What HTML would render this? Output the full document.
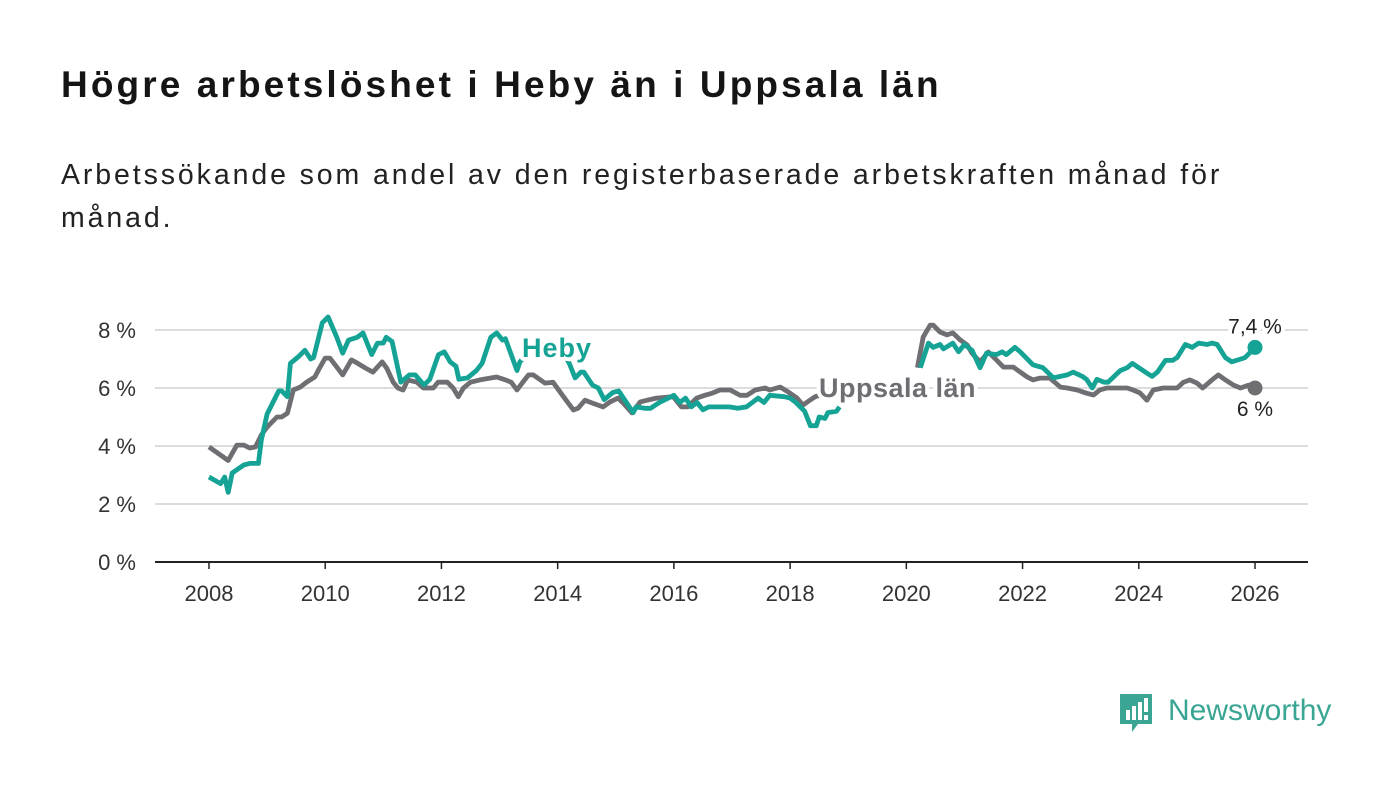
<!DOCTYPE html>
<html><head><meta charset="utf-8">
<style>
body{margin:0;background:#fff;width:1400px;height:794px;overflow:hidden;font-family:"Liberation Sans",sans-serif;}
#title{position:absolute;left:61px;top:64px;font-size:37px;font-weight:bold;color:#151515;margin:0;letter-spacing:3.1px;}
#sub{position:absolute;left:61px;top:154px;width:1240px;font-size:28.5px;line-height:43px;color:#222;margin:0;letter-spacing:2.9px;}
svg{position:absolute;left:0;top:0;}
#logo{position:absolute;left:1118px;top:690px;}
</style></head><body>
<h1 id="title">Högre arbetslöshet i Heby än i Uppsala län</h1>
<p id="sub">Arbetssökande som andel av den registerbaserade arbetskraften månad för månad.</p>
<svg id="chart" width="1400" height="794"></svg>
<div id="logo">
<svg width="230" height="50" style="position:static">
<path d="M2 4 h32 v30 h-14 l-6 8 v-8 h-12z" fill="#3aa593"/>
<rect x="8" y="20" width="4" height="10" fill="#fff"/><rect x="14" y="16" width="4" height="14" fill="#fff"/><rect x="20" y="12" width="4" height="18" fill="#fff"/><rect x="26" y="8" width="4" height="14" fill="#fff"/><rect x="26" y="25" width="4" height="5" fill="#fff"/>
<text x="50" y="30" font-family="Liberation Sans, sans-serif" font-size="30" fill="#3aa593">Newsworthy</text>
</svg></div>
<script>
const xTicks=[2008,2010,2012,2014,2016,2018,2020,2022,2024,2026];
const yTicks=[0,2,4,6,8];
const hebyDates=[2008.0,2008.2,2008.27,2008.33,2008.4,2008.6,2008.7,2008.85,2008.9,2009.0,2009.1,2009.2,2009.25,2009.35,2009.4,2009.55,2009.65,2009.75,2009.8,2009.95,2010.05,2010.2,2010.3,2010.4,2010.55,2010.65,2010.7,2010.8,2010.9,2011.0,2011.05,2011.15,2011.3,2011.45,2011.55,2011.7,2011.8,2011.95,2012.05,2012.15,2012.25,2012.3,2012.45,2012.6,2012.7,2012.85,2012.95,2013.05,2013.1,2013.3,2013.35,2013.5,2013.7,2013.9,2014.1,2014.2,2014.3,2014.4,2014.45,2014.6,2014.7,2014.8,2014.95,2015.05,2015.3,2015.35,2015.5,2015.6,2015.75,2016.0,2016.1,2016.2,2016.3,2016.4,2016.5,2016.6,2016.95,2017.1,2017.25,2017.35,2017.45,2017.55,2017.65,2017.9,2018.0,2018.1,2018.25,2018.35,2018.45,2018.5,2018.6,2018.65,2018.8,2018.85,null,2020.24,2020.38,2020.46,2020.58,2020.64,2020.8,2020.9,2021.0,2021.13,2021.27,2021.38,2021.55,2021.65,2021.72,2021.87,2021.96,2022.18,2022.35,2022.53,2022.65,2022.77,2022.87,2023.03,2023.1,2023.2,2023.28,2023.4,2023.47,2023.68,2023.8,2023.89,2024.0,2024.15,2024.23,2024.32,2024.46,2024.58,2024.66,2024.8,2024.92,2025.03,2025.18,2025.26,2025.35,2025.49,2025.6,2025.83,2026.0];
const hebyValues=[2.93,2.7,2.93,2.4,3.07,3.35,3.4,3.4,4.2,5.1,5.5,5.9,5.9,5.7,6.85,7.1,7.3,7.0,7.05,8.25,8.45,7.75,7.2,7.65,7.75,7.9,7.65,7.15,7.55,7.55,7.75,7.6,6.2,6.45,6.45,6.1,6.3,7.15,7.25,6.9,6.75,6.3,6.35,6.6,6.85,7.75,7.9,7.65,7.7,6.6,6.9,7.25,7.2,7.35,7.2,6.85,6.35,6.55,6.55,6.1,6.0,5.6,5.85,5.9,5.15,5.35,5.3,5.3,5.5,5.75,5.5,5.65,5.35,5.5,5.25,5.35,5.35,5.3,5.35,5.5,5.65,5.5,5.75,5.7,5.65,5.5,5.2,4.7,4.7,5.0,4.95,5.15,5.2,5.35,null,6.7,7.55,7.4,7.5,7.35,7.55,7.25,7.5,7.3,6.7,7.2,7.15,7.25,7.15,7.4,7.25,6.8,6.7,6.35,6.4,6.45,6.55,6.4,6.3,6.0,6.3,6.2,6.2,6.6,6.7,6.85,6.7,6.5,6.4,6.55,6.95,6.95,7.05,7.5,7.4,7.55,7.5,7.55,7.5,7.05,6.9,7.05,7.4];
const uppDates=[2008.0,2008.33,2008.48,2008.6,2008.7,2008.8,2008.9,2009.0,2009.17,2009.25,2009.35,2009.45,2009.57,2009.68,2009.82,2009.9,2010.0,2010.08,2010.2,2010.3,2010.45,2010.56,2010.7,2010.82,2010.98,2011.06,2011.17,2011.25,2011.34,2011.42,2011.58,2011.69,2011.86,2011.94,2012.1,2012.2,2012.29,2012.38,2012.5,2012.66,2012.86,2012.95,2013.1,2013.2,2013.3,2013.4,2013.5,2013.58,2013.78,2013.92,2014.1,2014.27,2014.35,2014.47,2014.6,2014.78,2014.9,2015.04,2015.13,2015.28,2015.42,2015.54,2015.7,2015.99,2016.13,2016.24,2016.39,2016.53,2016.66,2016.79,2016.97,2017.14,2017.26,2017.4,2017.57,2017.65,2017.83,2017.97,2018.12,2018.22,2018.34,2018.43,2018.6,2018.85,null,2020.19,2020.29,2020.41,2020.46,2020.58,2020.7,2020.8,2020.93,2021.05,2021.13,2021.27,2021.41,2021.55,2021.67,2021.84,2022.08,2022.18,2022.3,2022.47,2022.65,2022.77,2022.94,2023.1,2023.22,2023.33,2023.45,2023.68,2023.8,2023.9,2024.02,2024.14,2024.25,2024.42,2024.66,2024.77,2024.88,2025.0,2025.1,2025.26,2025.37,2025.49,2025.63,2025.75,2025.89,2026.0];
const uppValues=[3.97,3.5,4.03,4.03,3.93,3.97,4.38,4.65,5.0,5.0,5.13,5.93,6.03,6.2,6.38,6.68,7.03,7.03,6.72,6.45,6.97,6.85,6.68,6.55,6.9,6.68,6.2,6.0,5.93,6.28,6.2,6.0,6.0,6.2,6.2,6.0,5.7,6.0,6.2,6.28,6.35,6.38,6.28,6.2,5.93,6.2,6.45,6.45,6.17,6.2,5.7,5.24,5.3,5.58,5.48,5.35,5.52,5.65,5.48,5.14,5.52,5.58,5.65,5.7,5.35,5.35,5.65,5.75,5.82,5.93,5.93,5.75,5.75,5.93,6.0,5.93,6.03,5.86,5.65,5.41,5.58,5.7,5.8,5.9,null,6.7,7.76,8.17,8.17,7.93,7.83,7.9,7.65,7.48,7.2,6.9,7.24,6.97,6.72,6.72,6.38,6.28,6.34,6.34,6.03,6.0,5.93,5.82,5.76,5.93,6.0,6.0,6.0,5.93,5.83,5.58,5.93,6.0,6.0,6.2,6.28,6.17,6.0,6.28,6.45,6.28,6.1,6.0,6.1,6.07];
const hebyLast=7.4, uppLast=6.0;

const NS='http://www.w3.org/2000/svg';
const svg=document.getElementById('chart');
const X0=155,X1=1308;
function xs(y){return 209+(y-2008)*(1255-209)/18;}
function ys(v){return 562-v*29;}
function el(tag,attrs,parent){const e=document.createElementNS(NS,tag);for(const k in attrs)e.setAttribute(k,attrs[k]);(parent||svg).appendChild(e);return e;}
const fam='Liberation Sans, sans-serif';
yTicks.forEach(t=>{
  const g=el('line',{x1:X0,x2:X1,y1:ys(t),y2:ys(t),stroke:t===0?'#222':'#dcdcdc','stroke-width':2});
  
  
  const tx=el('text',{x:136,y:ys(t)+8,'text-anchor':'end','font-size':22,fill:'#333','font-family':fam});
  tx.textContent=t+' %';
  
  
});
xTicks.forEach(t=>{
  const l=el('line',{x1:xs(t),x2:xs(t),y1:562,y2:569,stroke:'#222','stroke-width':1.5});
  
  
  const tx=el('text',{x:xs(t),y:601,'text-anchor':'middle','font-size':22,fill:'#333','font-family':fam});
  tx.textContent=t;
  
  
});
function pathD(d,v){let s='',pen=false;for(let i=0;i<d.length;i++){if(d[i]===null||v[i]===null){pen=false;continue;}s+=(pen?'L':'M')+xs(d[i]).toFixed(1)+' '+ys(v[i]).toFixed(1);pen=true;}return s;}
const up=el('path',{d:pathD(uppDates,uppValues),fill:'none',stroke:'#6f6e73','stroke-width':4.8,'stroke-linejoin':'round'});


const hb=el('path',{d:pathD(hebyDates,hebyValues),fill:'none',stroke:'#14a394','stroke-width':4.8,'stroke-linejoin':'round'});


const lastX=xs(hebyDates[hebyDates.length-1]);
const d1=el('circle',{cx:lastX,cy:ys(uppLast),r:7.5,fill:'#6f6e73'});


const d2=el('circle',{cx:lastX,cy:ys(hebyLast),r:7.5,fill:'#14a394'});


function label(txt,x,y,opts,name){const t=el('text',Object.assign({x:x,y:y,'font-family':fam,stroke:'#fff','stroke-width':8,'paint-order':'stroke','stroke-linejoin':'round'},opts));t.textContent=txt;return t;}
label('Heby',522,357,{'font-size':27,'font-weight':'bold',fill:'#14a394','letter-spacing':1},'heby-label');
label('Uppsala län',819,397,{'font-size':27,'font-weight':'bold',fill:'#6f6e73','letter-spacing':0.5},'uppsala-label');
label(String(hebyLast).replace('.',',')+' %',lastX,ys(hebyLast)-14,{'font-size':21,fill:'#222','text-anchor':'middle'},'heby-end-value');
label(Math.round(uppLast*10)/10+' %',lastX,ys(uppLast)+28,{'font-size':21,fill:'#222','text-anchor':'middle'},'uppsala-end-value');
</script>
</body></html>
